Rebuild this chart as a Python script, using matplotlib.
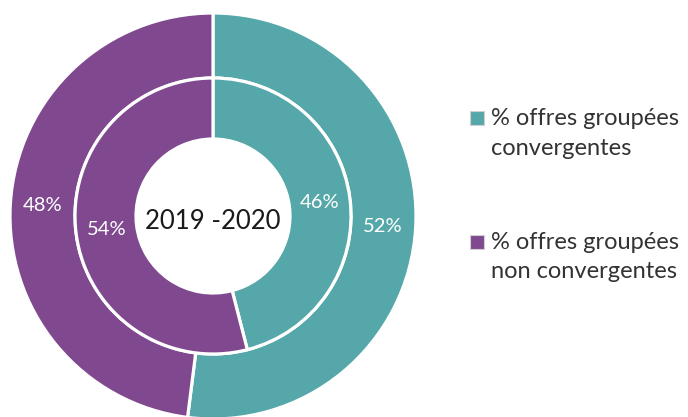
import matplotlib.pyplot as plt
from matplotlib.patches import Rectangle

# data
labels = ['% offres groupées\nconvergentes', '% offres groupées\nnon convergentes']
outer_values = [52, 48]   # outer ring
inner_values = [46, 54]   # inner ring
center_text = '2019 -2020'

colors = ['#55A7A9', '#80498F']

plt.rcParams['font.family'] = ['Lato', 'DejaVu Sans']

fig = plt.figure(figsize=(6.88, 4.17), dpi=100)
ax = fig.add_axes([0, 0, 1, 1])

# pixel coordinates, y measured from the bottom
cx, cy = 213, 417 - 216
r_out, r_mid, r_in = 203, 138, 77

ax.pie(outer_values, radius=r_out, center=(cx, cy), colors=colors,
       startangle=90, counterclock=False,
       wedgeprops=dict(width=r_out - r_mid, edgecolor='white', linewidth=2.3),
       autopct=lambda p: f'{p:.0f}%', pctdistance=(r_out + r_mid) / 2 / r_out,
       textprops=dict(color='white', fontsize=14.5), frame=True)
ax.pie(inner_values, radius=r_mid, center=(cx, cy), colors=colors,
       startangle=90, counterclock=False,
       wedgeprops=dict(width=r_mid - r_in, edgecolor='white', linewidth=2.3),
       autopct=lambda p: f'{p:.0f}%', pctdistance=(r_mid + r_in) / 2 / r_mid,
       textprops=dict(color='white', fontsize=14.5), frame=True)
ax.set_xlim(0, 688)
ax.set_ylim(0, 417)
ax.set_aspect('equal')
ax.axis('off')

ax.text(cx, cy - 5, center_text, ha='center', va='center', fontsize=18.5, color='#1a1a1a')

# legend, drawn by hand so the marker sits on the first line
legend_y = [417 - 118, 417 - 242]
for lab, col, y in zip(labels, colors, legend_y):
    ax.add_patch(Rectangle((470, y - 7), 14, 14, facecolor=col, edgecolor='#d0d0d0', linewidth=0.8))
    ax.text(491, y + 10, lab, ha='left', va='top', fontsize=17, color='#333333', linespacing=1.5)

fig.savefig('out.png', dpi=100)
